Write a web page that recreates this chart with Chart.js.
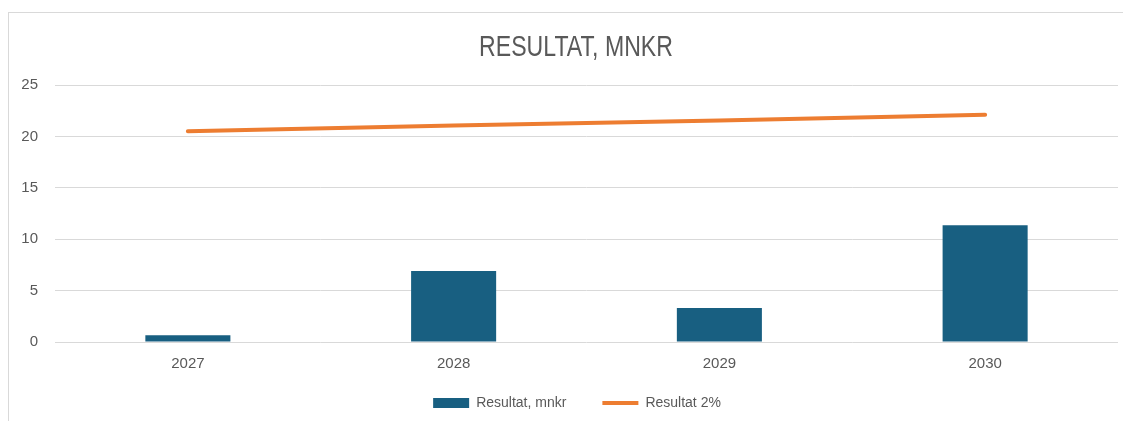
<!DOCTYPE html>
<html>
<head>
<meta charset="utf-8">
<script src="https://cdn.jsdelivr.net/npm/chart.js@4/dist/chart.umd.min.js"></script>
<style>
  html, body { margin: 0; padding: 0; background: #fff; }
  #frame {
    position: absolute; left: 8px; top: 12px; width: 1120px; height: 415px;
    border: 1px solid #d9d9d9; box-sizing: border-box;
  }
  #chart { position: absolute; left: 0; top: 0; }
</style>
</head>
<body>
<div id="frame"></div>
<canvas id="chart" width="1123" height="421"></canvas>
<script>
const years = ['2027', '2028', '2029', '2030'];
const resultat = [0.65, 6.9, 3.3, 11.35];
const resultat2 = [20.5, 21.05, 21.55, 22.1];
const yTicks = [0, 5, 10, 15, 20, 25];
const titleText = 'RESULTAT, MNKR';

const grey = '#595959';
const baseFont = 'Liberation Sans, Arial, sans-serif';

// title is drawn condensed, like the narrow font in the original
const narrowTitle = {
    id: 'narrowTitle',
    afterDraw(chart) {
        const c = chart.ctx;
        c.save();
        c.font = '30px ' + baseFont;
        c.fillStyle = grey;
        c.textAlign = 'center';
        c.textBaseline = 'middle';
        c.translate(576, 48);
        c.scale(0.77, 1);
        c.fillText(titleText, 0, 0);
        c.restore();
    }
};

// keep the legend short so the plot gets the height, then lift it a bit
const legendHeight = {
    id: 'legendHeight',
    afterInit(chart) {
        const lg = chart.legend;
        const fit = lg.fit;
        lg.fit = function () {
            fit.call(this);
            this.height = 39;
        };
    },
    afterLayout(chart) {
        chart.legend.top -= 18;
        chart.legend.bottom = chart.height;
        chart.legend.left += 28;
    }
};

const ctx = document.getElementById('chart').getContext('2d');
const chart = new Chart(ctx, {
    data: {
        labels: years,
        datasets: [
            {
                type: 'line',
                label: 'Resultat 2%',
                data: resultat2,
                borderColor: '#ed7d31',
                backgroundColor: '#ed7d31',
                borderWidth: 4,
                borderCapStyle: 'round',
                pointRadius: 0,
                tension: 0,
                order: 0
            },
            {
                type: 'bar',
                label: 'Resultat, mnkr',
                data: resultat,
                backgroundColor: '#185f81',
                borderWidth: 0,
                categoryPercentage: 1,
                barPercentage: 0.32,
                order: 1
            }
        ]
    },
    plugins: [narrowTitle, legendHeight],
    options: {
        responsive: false,
        animation: false,
        layout: { padding: { left: 8, right: 5, top: 85, bottom: 4 } },
        plugins: {
            title: { display: false },
            legend: {
                position: 'bottom',
                reverse: true,
                labels: {
                    color: grey,
                    font: { family: baseFont, size: 14 },
                    usePointStyle: true,
                    pointStyleWidth: 36,
                    boxHeight: 10,
                    padding: 36,
                    generateLabels: function (chart) {
                        const items = Chart.defaults.plugins.legend.labels.generateLabels(chart);
                        items.forEach(function (it) {
                            if (it.datasetIndex === 0) {
                                it.pointStyle = 'line';
                            } else {
                                it.pointStyle = 'rect';
                                it.lineWidth = 0;
                            }
                        });
                        return items;
                    }
                }
            },
            tooltip: { enabled: false }
        },
        scales: {
            x: {
                grid: { display: false },
                border: { display: false },
                ticks: { color: grey, font: { family: baseFont, size: 15 }, padding: 5 }
            },
            y: {
                min: 0,
                max: 25,
                afterFit: function (scale) { scale.width = 47; },
                afterBuildTicks: function (scale) {
                    scale.ticks = yTicks.map(function (v) { return { value: v }; });
                },
                grid: { color: '#d9d9d9', lineWidth: 1, drawTicks: false },
                border: { display: false },
                ticks: { color: grey, font: { family: baseFont, size: 15 }, padding: 17 }
            }
        }
    }
});
</script>
</body>
</html>
